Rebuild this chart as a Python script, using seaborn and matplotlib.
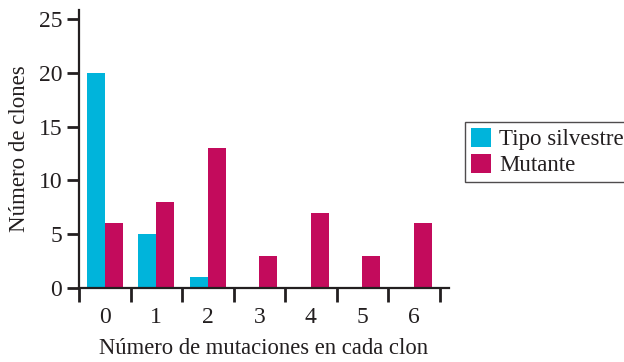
import matplotlib
matplotlib.use("Agg")
import matplotlib.pyplot as plt
import seaborn as sns
import pandas as pd
import numpy as np
from matplotlib.ticker import FixedLocator
from matplotlib.patches import Patch

# Clone counts by number of mutations
mutaciones = [0, 1, 2, 3, 4, 5, 6]
silvestre = [20, 5, 1, 0, 0, 0, 0]
mutante = [6, 8, 13, 3, 7, 3, 6]
series = ["Tipo silvestre", "Mutante"]
colores = ["#00B4DB", "#C30B5C"]

df = pd.DataFrame({
    "mutaciones": mutaciones * 2,
    "clones": silvestre + mutante,
    "tipo": [series[0]] * len(mutaciones) + [series[1]] * len(mutaciones),
})

sns.set_theme(style="ticks")
plt.rcParams["font.family"] = ["Liberation Serif", "DejaVu Serif"]
plt.rcParams["text.color"] = "#231F20"

fig = plt.figure(figsize=(6.24, 3.62), dpi=100)
ax = fig.add_axes([0.1266, 0.2044, 0.593, 0.768])

sns.barplot(data=df, x="mutaciones", y="clones", hue="tipo",
            palette=colores, hue_order=series, width=0.7,
            saturation=1, linewidth=0, legend=False, ax=ax)

ax.set_xlim(-0.5, 6.68)
ax.set_ylim(0, 25.84)
ax.set_yticks([0, 5, 10, 15, 20, 25])
ax.set_xticks(range(len(mutaciones)))
ax.set_xticklabels([str(m) for m in mutaciones])
ax.xaxis.set_minor_locator(FixedLocator(np.arange(-0.5, 7, 1.0)))
ax.tick_params(axis="x", which="major", length=0, pad=14, labelsize=17, colors="#231F20")
ax.tick_params(axis="x", which="minor", length=10, width=2, color="#231F20")
ax.tick_params(axis="y", which="major", length=9, width=2, labelsize=17, pad=3, colors="#231F20")

for s in ["top", "right"]:
    ax.spines[s].set_visible(False)
for s in ["left", "bottom"]:
    ax.spines[s].set_linewidth(1.6)
    ax.spines[s].set_color("#231F20")

ax.set_xlabel("Número de mutaciones en cada clon", fontsize=16.3, labelpad=7, color="#231F20")
ax.set_ylabel("Número de clones", fontsize=16.5, labelpad=6, color="#231F20")

handles = [Patch(facecolor=c, edgecolor="none") for c in colores]
leg = fig.legend(handles, series, loc="upper left", bbox_to_anchor=(0.745, 0.663),
                 frameon=True, fancybox=False, fontsize=16.5, handlelength=0.9,
                 handleheight=0.9, handletextpad=0.35, labelspacing=0.15,
                 borderpad=0.25, borderaxespad=0)
leg.get_frame().set_edgecolor("#231F20")
leg.get_frame().set_linewidth(1.0)

fig.savefig("out.png", dpi=100)
